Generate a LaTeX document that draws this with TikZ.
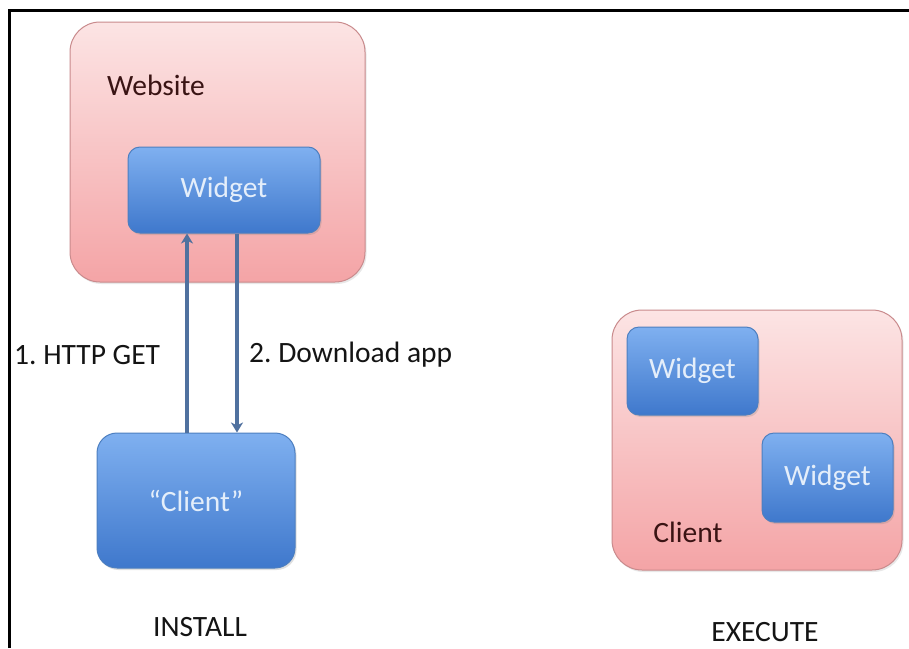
\documentclass[tikz,border=0pt]{standalone}
\usepackage{fontspec}
\setmainfont{Carlito}
\usetikzlibrary{arrows.meta,shadows}
\definecolor{pinktop}{HTML}{FCE4E4}
\definecolor{pinkbot}{HTML}{F4A4A6}
\definecolor{pinkedge}{HTML}{C98A8C}
\definecolor{bluetop}{HTML}{7FB0F0}
\definecolor{bluebot}{HTML}{3F78CC}
\definecolor{blueedge}{HTML}{4D7FC0}
\definecolor{bluetext}{HTML}{E4EEFA}
\definecolor{arrowblue}{HTML}{50719F}
\definecolor{darkred}{HTML}{3A1414}
\tikzset{
  x=1pt, y=-1pt,
  every node/.style={font=\fontsize{29.5}{32}\selectfont\frenchspacing},
  container/.style={draw=pinkedge, line width=1pt, top color=pinktop,
    bottom color=pinkbot, rounded corners=30pt, inner sep=0pt,
    drop shadow={shadow xshift=1.5pt, shadow yshift=-2pt, opacity=0.18}},
  bluebox/.style={draw=blueedge, line width=1pt, top color=bluetop,
    bottom color=bluebot, rounded corners=12pt, inner sep=0pt,
    text=bluetext,
    drop shadow={shadow xshift=1.5pt, shadow yshift=-2pt, opacity=0.25}},
  txt/.style={text=black!92, inner sep=0pt},
  flow/.style={draw=arrowblue, line width=3.4pt,
    -{Stealth[length=10pt,width=12pt,inset=3pt]}},
  frame/.style={draw=black, line width=3pt},
}
\begin{document}
\begin{tikzpicture}
\useasboundingbox (0,0) rectangle (909,648);
\fill[white] (0,0) rectangle (909,648);

% page frame (left and top edges)
\coordinate (fb) at (9.5,648);
\coordinate (fc) at (9.5,10);
\coordinate (fr) at (909,10);
\draw[frame] (fb) -- (fc) -- (fr);

% ---- INSTALL ----
\node[container, minimum width=295pt, minimum height=260pt] (site) at (217.5,152) {};
\node[txt, text=darkred] (sitelbl) at (156,85) {Website};
\node[bluebox, minimum width=192pt, minimum height=86pt] (wa) at (224,190) {Widget};
\node[bluebox, rounded corners=20pt, minimum width=198pt, minimum height=135pt] (ca) at (196,500.5) {“Client”};

\coordinate (upx) at (187,0);
\coordinate (dnx) at (237,0);
\draw[flow] (ca.north -| upx) -- (wa.south -| upx);
\draw[flow] (wa.south -| dnx) -- (ca.north -| dnx);

\node[txt, anchor=west] (get) at (14,355) {1. HTTP GET};
\node[txt, anchor=west] (dl) at (249,355) {2. Download app};
\node[txt] (install) at (200,627) {INSTALL};

% ---- EXECUTE ----
\node[container, minimum width=290pt, minimum height=260pt] (cb) at (757,440) {};
\node[bluebox, minimum width=131pt, minimum height=88pt] (wb) at (692.5,371) {Widget};
\node[bluebox, minimum width=131pt, minimum height=89pt] (wc) at (827.5,477.5) {Widget};
\node[txt, text=darkred] (cblbl) at (688,532) {Client};
\node[txt] (execute) at (765,632) {EXECUTE};
\end{tikzpicture}
\end{document}
